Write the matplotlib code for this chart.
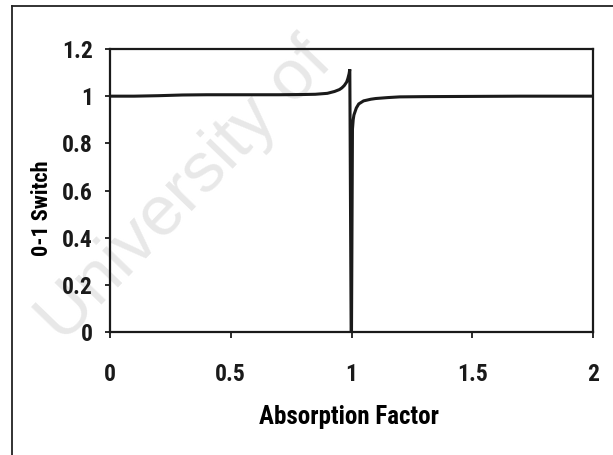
import matplotlib
matplotlib.use("Agg")
import matplotlib.pyplot as plt
from matplotlib.lines import Line2D
from matplotlib import font_manager

# Data
absorption = [0.0, 0.1, 0.2, 0.3, 0.4, 0.5, 0.6, 0.7, 0.8, 0.85, 0.9, 0.93, 0.95,
              0.96, 0.97, 0.98, 0.985, 0.99, 0.993, 0.9985, 1.0, 1.004, 1.007,
              1.01, 1.02, 1.03, 1.05, 1.08, 1.1, 1.15, 1.2, 1.3, 1.5, 1.7, 2.0]
switch = [1.0, 1.0, 1.002, 1.005, 1.006, 1.006, 1.006, 1.006, 1.007, 1.008, 1.012,
          1.02, 1.028, 1.035, 1.045, 1.06, 1.075, 1.095, 1.114, 0.0, 0.0, 0.86,
          0.9, 0.92, 0.95, 0.967, 0.98, 0.987, 0.99, 0.994, 0.997, 0.998, 0.999,
          1.0, 1.0]

xticks = [0, 0.5, 1, 1.5, 2]
xticklabels = ["0", "0.5", "1", "1.5", "2"]
yticks = [0, 0.2, 0.4, 0.6, 0.8, 1.0, 1.2]
yticklabels = ["0", "0.2", "0.4", "0.6", "0.8", "1", "1.2"]

available = {f.name for f in font_manager.fontManager.ttflist}
cands = ["Liberation Sans Narrow", "DejaVu Sans Condensed", "Roboto Condensed",
         "Liberation Sans", "DejaVu Sans"]
FONT = [c for c in cands if c in available] or ["DejaVu Sans"]

W, H = 613, 455
fig = plt.figure(figsize=(W / 100, H / 100), dpi=100)

# watermark
fig.text(186 / W, 1 - 192 / H, "University of", rotation=46, fontsize=51, color="#e8e8e8",
         family=["Liberation Sans", "DejaVu Sans"], ha="center", va="center", zorder=-5)

# outer frame
fig.add_artist(Line2D([12 / W, 12 / W], [0, 1 - 6 / H], transform=fig.transFigure,
                      color="#222222", lw=1.3))
fig.add_artist(Line2D([12 / W, 1], [1 - 6 / H, 1 - 6 / H], transform=fig.transFigure,
                      color="#222222", lw=1.3))

ax = fig.add_axes([110 / W, 1 - 332 / H, (593 - 110) / W, (332 - 49) / H])
ax.patch.set_alpha(0)
ax.plot(absorption, switch, color="#1a1a1a", lw=2.2, solid_joinstyle="miter", zorder=3)
ax.set_xlim(0, 2)
ax.set_ylim(0, 1.2)
ax.set_xticks(xticks)
ax.set_xticklabels(xticklabels)
ax.set_yticks(yticks)
ax.set_yticklabels(yticklabels)
for s in ax.spines.values():
    s.set_linewidth(1.6)
    s.set_color("#1a1a1a")
ax.tick_params(axis="y", direction="out", length=3.6, width=1.3, pad=8.5, colors="#1a1a1a")
ax.tick_params(axis="x", direction="out", length=4.5, width=1.3, pad=18, colors="#1a1a1a")
for lab in ax.get_xticklabels() + ax.get_yticklabels():
    lab.set_family(FONT)
    lab.set_fontweight("bold")
    lab.set_fontsize(17)

fig.text(349 / W, 1 - 417 / H, "Absorption Factor", family=FONT, fontweight="bold",
         fontsize=18, ha="center", va="center")
fig.text(42 / W, 1 - 208 / H, "0-1 Switch", rotation=90, family=FONT, fontweight="bold",
         fontsize=16, ha="center", va="center")

fig.savefig("out.png", dpi=100)
